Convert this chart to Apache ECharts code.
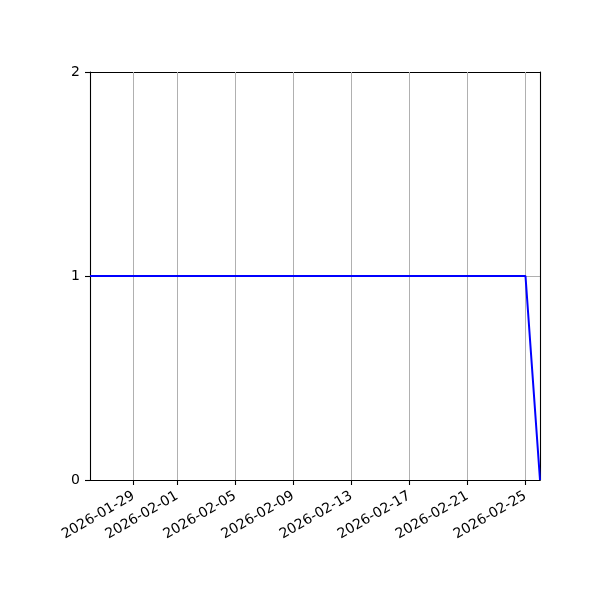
<!DOCTYPE html>
<html>
<head>
<meta charset="utf-8">
<script src="https://cdn.jsdelivr.net/npm/echarts@6/dist/echarts.min.js"></script>
<style>html,body{margin:0;padding:0;background:#fff}#c{width:600px;height:600px}</style>
</head>
<body>
<div id="c"></div>
<script>
const dates = ['2026-01-26','2026-01-27','2026-01-28','2026-01-29','2026-01-30','2026-01-31',
  '2026-02-01','2026-02-02','2026-02-03','2026-02-04','2026-02-05','2026-02-06','2026-02-07',
  '2026-02-08','2026-02-09','2026-02-10','2026-02-11','2026-02-12','2026-02-13','2026-02-14',
  '2026-02-15','2026-02-16','2026-02-17','2026-02-18','2026-02-19','2026-02-20','2026-02-21',
  '2026-02-22','2026-02-23','2026-02-24','2026-02-25','2026-02-26'];
const values = [1,1,1,1,1,1,1,1,1,1,1,1,1,1,1,1,1,1,1,1,1,1,1,1,1,1,1,1,1,1,1,0];
const xTickLabels = ['2026-01-29','2026-02-01','2026-02-05','2026-02-09','2026-02-13','2026-02-17','2026-02-21','2026-02-25'];
const yTicks = [0, 1, 2];

function toMs(s){ const p = s.split('-').map(Number); return Date.UTC(p[0], p[1]-1, p[2]); }
function fmt(ms){ const d = new Date(ms); const p = n => String(n).padStart(2,'0');
  return d.getUTCFullYear() + '-' + p(d.getUTCMonth()+1) + '-' + p(d.getUTCDate()); }

const xMin = toMs(dates[0]), xMax = toMs(dates[dates.length-1]);
const tickMs = xTickLabels.map(toMs);
const FONT = 'DejaVu Sans';

const chart = echarts.init(document.getElementById('c'));
chart.setOption({
  animation: false,
  backgroundColor: '#fff',
  grid: { left: 90, right: 60, top: 72, bottom: 120, show: false },
  xAxis: [
    {
      type: 'value', min: xMin, max: xMax, position: 'bottom', scale: true,
      axisLine: { show: true, onZero: false, lineStyle: { color: '#000', width: 1.1 } },
      axisTick: { show: true, customValues: tickMs, length: 5, lineStyle: { color: '#000', width: 1.1 } },
      axisLabel: { show: true, customValues: tickMs, rotate: 30, color: '#000', fontFamily: FONT, fontSize: 14,
        margin: 15, formatter: v => fmt(v) },
      splitLine: { show: false }
    },
    {
      type: 'value', min: xMin, max: xMax, position: 'top', scale: true,
      axisLine: { show: true, onZero: false, lineStyle: { color: '#000', width: 1.1 } },
      axisTick: { show: true, inside: true, customValues: tickMs, length: 408, lineStyle: { color: '#b0b0b0', width: 1 } },
      axisLabel: { show: false },
      splitLine: { show: false }
    }
  ],
  yAxis: [
    {
      type: 'value', min: yTicks[0], max: yTicks[yTicks.length-1], interval: 1, position: 'left',
      axisLine: { show: true, onZero: false, lineStyle: { color: '#000', width: 1.1 } },
      axisTick: { show: true, length: 5, lineStyle: { color: '#000', width: 1.1 } },
      axisLabel: { color: '#000', fontFamily: FONT, fontSize: 14, margin: 10 },
      splitLine: { show: true, lineStyle: { color: '#b0b0b0', width: 1 } }
    },
    {
      type: 'value', min: yTicks[0], max: yTicks[yTicks.length-1], interval: 1, position: 'right',
      axisLine: { show: true, onZero: false, lineStyle: { color: '#000', width: 1.1 } },
      axisTick: { show: false }, axisLabel: { show: false }, splitLine: { show: false }
    }
  ],
  series: [{
    type: 'line',
    data: dates.map((d, i) => [toMs(d), values[i]]),
    showSymbol: false, symbol: 'none',
    lineStyle: { color: '#0000ff', width: 2 },
    z: 5
  }]
});
</script>
</body>
</html>
